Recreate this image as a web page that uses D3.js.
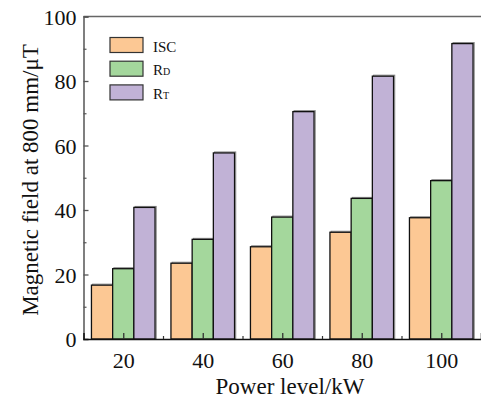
<!DOCTYPE html>
<html><head><meta charset="utf-8">
<script src="https://cdn.jsdelivr.net/npm/d3@7"></script>
<style>
html,body{margin:0;padding:0;background:#fff;}
svg{display:block;font-family:"Liberation Serif","Times New Roman",serif;}
</style></head>
<body><svg id="c" width="481" height="400"></svg>
<script>
const categories = [20, 40, 60, 80, 100];
const seriesNames = ["ISC", "RD", "RT"];
const iscValues = [16.7, 23.5, 28.6, 33.1, 37.6];
const rdValues  = [21.8, 30.9, 37.8, 43.6, 49.1];
const rtValues  = [40.8, 57.7, 70.5, 81.5, 91.6];
const yTicks = [0, 20, 40, 60, 80, 100];
const yMinorTicks = [10, 30, 50, 70, 90];
const xMinorTicks = [30, 50, 70, 90];
const colors = ["#FCC894", "#A4D79C", "#C1B2D6"];

const svg = d3.select("#c");
const x = d3.scaleLinear().domain([10, 110]).range([83.5, 481]);
const y = d3.scaleLinear().domain([0, 100]).range([339, 16.5]);
const barUnits = 16 / 3;
const bw = x(10 + barUnits) - x(10);
const seriesValues = [iscValues, rdValues, rtValues];

// bars
seriesValues.forEach((vals, s) => {
  const g = svg.append("g");
  // subtle shadow
  g.selectAll("rect.sh").data(vals).join("rect")
    .attr("x", (d, i) => x(categories[i]) + (s - 1.5) * bw + 1.2)
    .attr("y", d => y(d) - 1)
    .attr("width", bw).attr("height", d => y(0) - y(d) + 1)
    .attr("fill", "none").attr("stroke", "#888").attr("stroke-width", 1);
  g.selectAll("rect.b").data(vals).join("rect")
    .attr("x", (d, i) => x(categories[i]) + (s - 1.5) * bw)
    .attr("y", d => y(d))
    .attr("width", bw).attr("height", d => y(0) - y(d))
    .attr("fill", colors[s]).attr("stroke", "#111").attr("stroke-width", 1.3);
});

// frame top
svg.append("line").attr("x1", x(10)).attr("x2", 481).attr("y1", y(100)).attr("y2", y(100))
  .attr("stroke", "#666").attr("stroke-width", 1.5);

// y axis
const yAxis = d3.axisLeft(y).tickValues(yTicks).tickSize(-5).tickPadding(7).tickFormat(d3.format("d"));
const ya = svg.append("g").attr("transform", `translate(${x(10)},0)`).call(yAxis);
ya.select(".domain").attr("stroke", "#555").attr("stroke-width", 1.5);
ya.selectAll(".tick line").attr("stroke", "#555").attr("stroke-width", 1.3);
ya.selectAll("text").attr("font-size", 22).attr("font-family", "Liberation Serif").attr("fill", "#111").attr("dy", "0.36em");
const yMin = d3.axisLeft(y).tickValues(yMinorTicks).tickSize(-3).tickFormat("");
const ym = svg.append("g").attr("transform", `translate(${x(10)},0)`).call(yMin);
ym.select(".domain").remove();
ym.selectAll(".tick line").attr("stroke", "#555").attr("stroke-width", 1.2);

// x axis
const xAxis = d3.axisBottom(x).tickValues(categories).tickSize(-6).tickPadding(13).tickFormat(d3.format("d"));
const xa = svg.append("g").attr("transform", `translate(0,${y(0)})`).call(xAxis);
xa.select(".domain").attr("stroke", "#111").attr("stroke-width", 1.5);
xa.selectAll(".tick line").attr("stroke", "#333").attr("stroke-width", 1.3);
xa.selectAll("text").attr("font-size", 22).attr("font-family", "Liberation Serif").attr("fill", "#111");
const xMin = d3.axisBottom(x).tickValues(xMinorTicks).tickSize(-3).tickFormat("");
const xm = svg.append("g").attr("transform", `translate(0,${y(0)})`).call(xMin);
xm.select(".domain").remove();
xm.selectAll(".tick line").attr("stroke", "#333").attr("stroke-width", 1.2);

// axis titles
svg.append("text").attr("x", 290).attr("y", 394).attr("text-anchor", "middle")
  .attr("font-size", 23).attr("fill", "#111").text("Power level/kW");
svg.append("text").attr("transform", "translate(38,180) rotate(-90)").attr("text-anchor", "middle")
  .attr("font-size", 23).attr("fill", "#111").text("Magnetic field at 800 mm/μT");

// legend
const leg = svg.append("g");
const legMain = ["ISC", "R", "R"];
const legSub = ["", "D", "T"];
seriesNames.forEach((n, i) => {
  const ly = 37.5 + i * 23.7;
  leg.append("rect").attr("x", 110).attr("y", ly).attr("width", 33).attr("height", 15)
    .attr("fill", colors[i]).attr("stroke", "#333").attr("stroke-width", 1.2);
  const t = leg.append("text").attr("x", 153).attr("y", ly + 14).attr("font-size", 15).attr("fill", "#111");
  t.append("tspan").text(legMain[i]);
  if (legSub[i]) t.append("tspan").attr("font-size", 10).text(legSub[i]);
});
</script></body></html>
